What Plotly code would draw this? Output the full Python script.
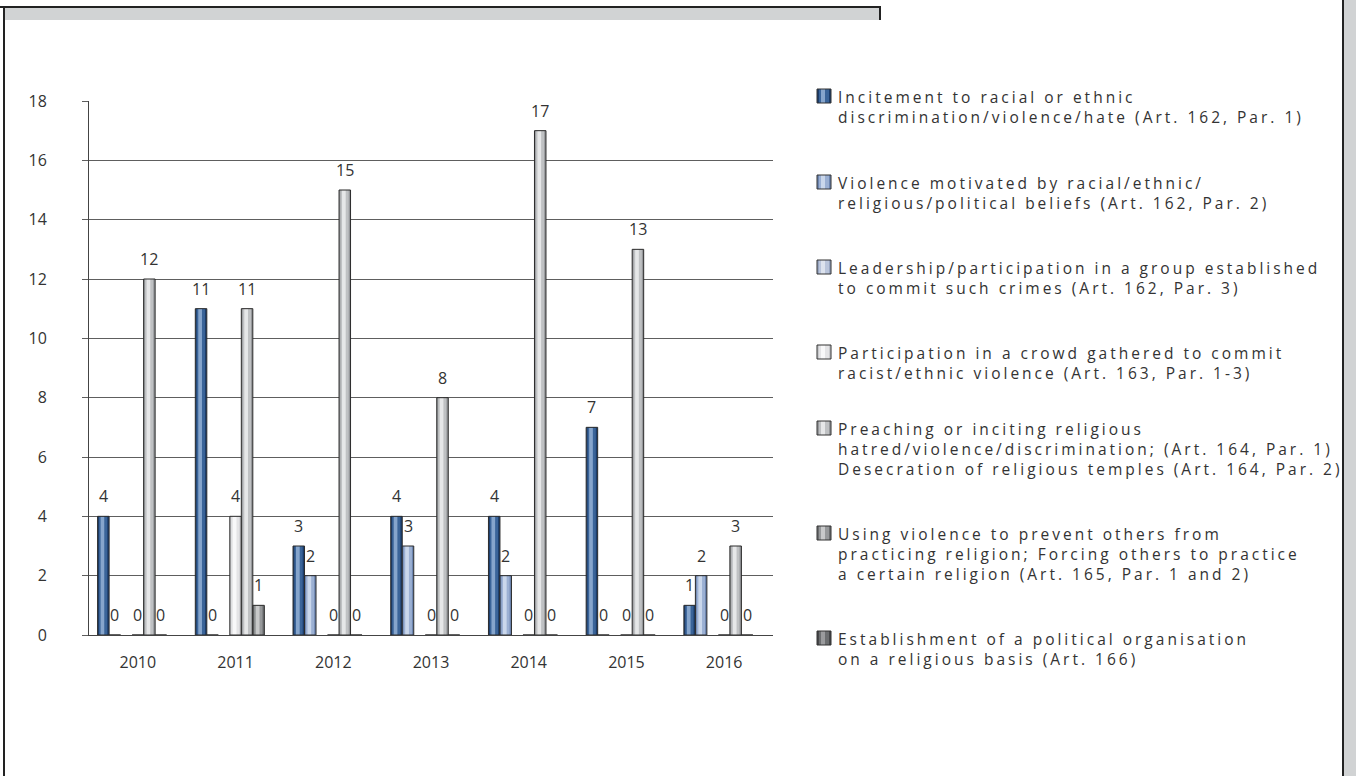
import plotly.graph_objects as go

# Criminal cases per year and offence type
years = ["2010", "2011", "2012", "2013", "2014", "2015", "2016"]

incitement_162_1 = [4, 11, 3, 4, 4, 7, 1]
violence_162_2 = [0, 0, 2, 3, 2, 0, 2]
group_162_3 = [None, None, None, None, None, None, None]
crowd_163 = [0, 4, 0, 0, 0, 0, 0]
religious_164 = [12, 11, 15, 8, 17, 13, 3]
prevent_religion_165 = [0, 1, 0, 0, 0, 0, 0]
political_org_166 = [None, None, None, None, None, None, None]

legend_labels = [
    "Incitement to racial or ethnic<br>discrimination/violence/hate (Art. 162, Par. 1)",
    "Violence motivated by racial/ethnic/<br>religious/political beliefs (Art. 162, Par. 2)",
    "Leadership/participation in a group established<br>to commit such crimes (Art. 162, Par. 3)",
    "Participation in a crowd gathered to commit<br>racist/ethnic violence (Art. 163, Par. 1-3)",
    "Preaching or inciting religious<br>hatred/violence/discrimination; (Art. 164, Par. 1)<br>Desecration of religious temples (Art. 164, Par. 2)",
    "Using violence to prevent others from<br>practicing religion; Forcing others to practice<br>a certain religion (Art. 165, Par. 1 and 2)",
    "Establishment of a political organisation<br>on a religious basis (Art. 166)",
]

series = [incitement_162_1, violence_162_2, group_162_3, crowd_163,
          religious_164, prevent_religion_165, political_org_166]

# (edge, mid, highlight) tones giving each bar a cylindrical shading
palettes = [
    ("#1b3c6a", "#3a6499", "#86a5cc"),
    ("#6d86b1", "#9bb0d3", "#cad7eb"),
    ("#98a6c2", "#bac5db", "#dde3ee"),
    ("#c9cacd", "#e4e4e6", "#f8f8f9"),
    ("#96989b", "#bfc1c3", "#e6e7e8"),
    ("#6c6e70", "#97999b", "#c8c9ca"),
    ("#464749", "#6c6e70", "#9a9b9d"),
]

W, H = 1356, 776
L, R, T, B = 89, 583, 101, 141
PW, PH = W - L - R, H - T - B

n_series = len(series)
group_width = 0.824
slot = group_width / n_series
label_font = dict(family="Open Sans, sans-serif", size=16, color="#333333")

fig = go.Figure()
annotations = []
for k, (vals, (edge, mid, light)) in enumerate(zip(series, palettes)):
    off = -group_width / 2 + k * slot
    # base bar (darker edge tone)
    fig.add_trace(go.Bar(
        x=years, y=vals, width=slot, offset=off,
        marker=dict(color=edge, line=dict(width=0)),
        showlegend=False, hoverinfo="skip"))
    # mid and highlight strips
    fig.add_trace(go.Bar(
        x=years, y=vals, width=slot * 0.72, offset=off + slot * 0.12,
        marker=dict(color=mid, line=dict(width=0)),
        showlegend=False, hoverinfo="skip"))
    fig.add_trace(go.Bar(
        x=years, y=vals, width=slot * 0.32, offset=off + slot * 0.26,
        marker=dict(color=light, line=dict(width=0)),
        showlegend=False, hoverinfo="skip"))
    # outline
    fig.add_trace(go.Bar(
        x=years, y=vals, width=slot, offset=off,
        marker=dict(color="rgba(0,0,0,0)", line=dict(width=1, color="#2b2b2b")),
        showlegend=False, hovertemplate="%{x}: %{y}<extra></extra>"))
    # value labels
    for i, v in enumerate(vals):
        if v is None:
            continue
        annotations.append(dict(
            x=i + off + slot / 2, y=v, xref="x", yref="y",
            text=str(v), showarrow=False, yanchor="bottom", yshift=7,
            font=label_font))

# page frame pieces, placed in pixel terms
def px(x):
    return (x - L) / PW

def py(y):
    return 1 - (y - T) / PH

shapes = [
    dict(type="rect", xref="paper", yref="paper", x0=px(5), x1=px(880), y0=py(20), y1=py(7),
         fillcolor="#d1d3d4", line=dict(width=0), layer="below"),
    dict(type="line", xref="paper", yref="paper", x0=px(0), x1=px(881), y0=py(7), y1=py(7),
         line=dict(color="#222222", width=2)),
    dict(type="line", xref="paper", yref="paper", x0=px(880), x1=px(880), y0=py(7), y1=py(20),
         line=dict(color="#222222", width=2)),
    dict(type="line", xref="paper", yref="paper", x0=px(4), x1=px(4), y0=py(7), y1=py(776),
         line=dict(color="#222222", width=2)),
    dict(type="rect", xref="paper", yref="paper", x0=px(1344), x1=px(1357), y0=py(776), y1=py(0),
         fillcolor="#d1d3d4", line=dict(width=0), layer="below"),
    dict(type="line", xref="paper", yref="paper", x0=px(1343), x1=px(1343), y0=py(0), y1=py(776),
         line=dict(color="#222222", width=2)),
]

# legend: gradient squares with wrapped descriptions
legend_start = len(annotations)
legend_tops = [96, 182, 267, 352, 428, 533, 638]
legend_font = dict(family="Open Sans, sans-serif", size=15.5, color="#333333")
for (edge, mid, light), top, text in zip(palettes, legend_tops, legend_labels):
    gx0, gx1, gy0, gy1 = 817, 831, top - 7, top + 7
    shapes.append(dict(type="rect", xref="paper", yref="paper",
                       x0=px(gx0), x1=px(gx1), y0=py(gy1), y1=py(gy0),
                       fillcolor=edge, line=dict(width=0)))
    shapes.append(dict(type="rect", xref="paper", yref="paper",
                       x0=px(gx0 + 2), x1=px(gx1 - 2), y0=py(gy1), y1=py(gy0),
                       fillcolor=mid, line=dict(width=0)))
    shapes.append(dict(type="rect", xref="paper", yref="paper",
                       x0=px(gx0 + 4), x1=px(gx0 + 8), y0=py(gy1), y1=py(gy0),
                       fillcolor=light, line=dict(width=0)))
    shapes.append(dict(type="rect", xref="paper", yref="paper",
                       x0=px(gx0), x1=px(gx1), y0=py(gy1), y1=py(gy0),
                       line=dict(color="#333333", width=1)))
    annotations.append(dict(
        x=px(836), y=py(top - 12), xref="paper", yref="paper",
        text=text, showarrow=False, xanchor="left", yanchor="top", align="left",
        font=legend_font))

fig.update_layout(
    width=W, height=H,
    margin=dict(l=L, r=R, t=T, b=B, autoexpand=False),
    paper_bgcolor="white", plot_bgcolor="white",
    barmode="overlay",
    showlegend=False,
    font=dict(family="Open Sans, sans-serif", color="#333333"),
    xaxis=dict(type="category", range=[-0.5, 6.5], showgrid=False,
               showline=True, linecolor="#444444", linewidth=1,
               ticks="", tickfont=dict(size=16, color="#333333"),
               ticklabelstandoff=13),
    yaxis=dict(range=[0, 18], dtick=2, showgrid=True, gridcolor="#5e5e5e", gridwidth=1,
               showline=True, linecolor="#444444", linewidth=1,
               ticks="outside", ticklen=6, tickcolor="#5e5e5e",
               tickfont=dict(size=16, color="#333333"), ticklabelstandoff=32,
               zeroline=False),
    shapes=shapes,
    annotations=annotations,
)

# widen the tracking of the legend descriptions
tracking_js = (
    "var gd=document.getElementById('{plot_id}');"
    "gd.querySelectorAll('g.annotation').forEach(function(g){"
    "var i=+g.getAttribute('data-index');"
    "if(i>=%d){g.querySelectorAll('text').forEach(function(t){"
    "t.style.letterSpacing='3px';});}});" % legend_start
)

fig.write_html("out.html", post_script=tracking_js)
